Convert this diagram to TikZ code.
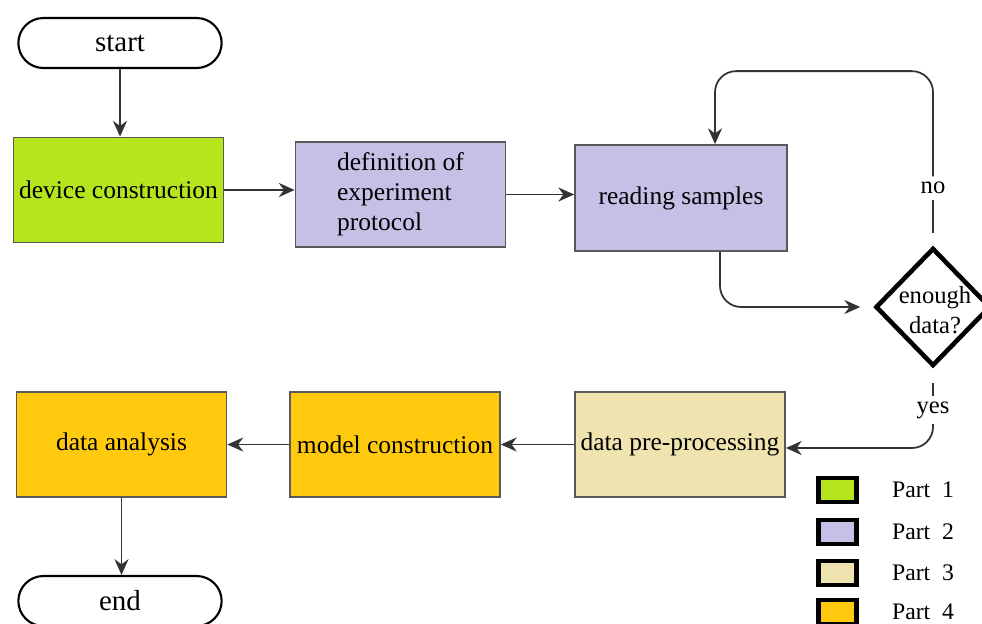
\documentclass[tikz,border=0pt]{standalone}
\usepackage{fontspec}
\setmainfont{Liberation Serif}
\usetikzlibrary{shapes, arrows.meta, positioning, calc}
\definecolor{partone}{HTML}{B5E61D}
\definecolor{parttwo}{HTML}{C8BFE7}
\definecolor{partthree}{HTML}{EFE4B0}
\definecolor{partfour}{HTML}{FFC90E}

\begin{document}
\begin{tikzpicture}[
    box/.style={draw=black!65, line width=1pt, minimum width=4.2cm, minimum height=2.1cm, inner sep=2pt, font=\fontsize{14.5}{17}\selectfont},
    term/.style={draw, rounded rectangle, line width=1.2pt, minimum width=4.3cm, minimum height=1cm, font=\fontsize{16.5}{19}\selectfont},
    decision/.style={draw, diamond, line width=2.6pt, minimum width=2.3cm, minimum height=2.36cm, inner sep=0pt},
    lbl/.style={fill=white, inner sep=3pt, font=\fontsize{14}{17}\selectfont},
    swatch/.style={draw, line width=2.5pt, minimum width=0.76cm, minimum height=0.48cm, inner sep=0pt},
    legtxt/.style={inner sep=0pt, font=\fontsize{13.5}{16}\selectfont},
    conn/.style={draw=black!80, line width=1pt},
    arr/.style={conn, -{Stealth[length=9pt, width=8pt]}}
]
    \useasboundingbox (0,0) rectangle (19.64,-12.46);

    % Flow boxes
    \node[term] (start) at (2.4,-0.86) {start};
    \node[box, fill=partone] (dev) at (2.37,-3.8) {device construction};
    \node[box, fill=parttwo, align=left] (proto) at (8.01,-3.89) {definition of\\experiment\\protocol};
    \node[box, fill=parttwo, minimum width=4.24cm, minimum height=2.12cm] (read) at (13.62,-3.96) {reading samples};
    \node[decision] (dec) at (18.66,-6.14) {};
    \node[lbl, fill=none, align=center] (dectxt) at (18.7,-6.2) {enough\\data?};
    \node[box, fill=partthree] (pre) at (13.6,-8.89) {data pre-processing};
    \node[box, fill=partfour] (model) at (7.9,-8.89) {model construction};
    \node[box, fill=partfour] (ana) at (2.43,-8.89) {data analysis};
    \node[term] (finish) at (2.4,-12.02) {end};

    % Branch labels
    \node[lbl] (no) at (18.66,-3.76) {no};
    \node[lbl] (yes) at (18.66,-8.2) {yes};

    % Connectors
    \draw[arr] (start) -- (start |- dev.north);
    \draw[arr] (dev.east) -- (dev.east -| proto.west);
    \draw[arr] (proto.east) -- (proto.east -| read.west);
    \draw[arr, rounded corners=12pt] ($(read.south)+(0.78,0)$) |- ([xshift=-0.26cm]dec.west);
    \draw[conn, shorten <=0.26cm] (dec.north) -- (no);
    \draw[arr, rounded corners=12pt] (no) |- ($(read.north)+(0.68,1.46)$) -- ($(read.north)+(0.68,0)$);
    \draw[conn, shorten <=0.3cm] (dec.south) -- (yes);
    \draw[arr, rounded corners=12pt] (yes) |- ([yshift=-0.07cm]pre.east);
    \draw[arr] (pre) -- (model);
    \draw[arr] (model) -- (ana);
    \draw[arr] (ana) -- (ana |- finish.north);

    % Legend
    \foreach \i/\c/\y in {1/partone/-9.8, 2/parttwo/-10.64, 3/partthree/-11.46, 4/partfour/-12.24} {
        \node[swatch, fill=\c] (sw\i) at (16.75,\y) {};
        \node[legtxt, right=0.66cm of sw\i] (part\i) {Part\enspace\i};
    }
\end{tikzpicture}
\end{document}
